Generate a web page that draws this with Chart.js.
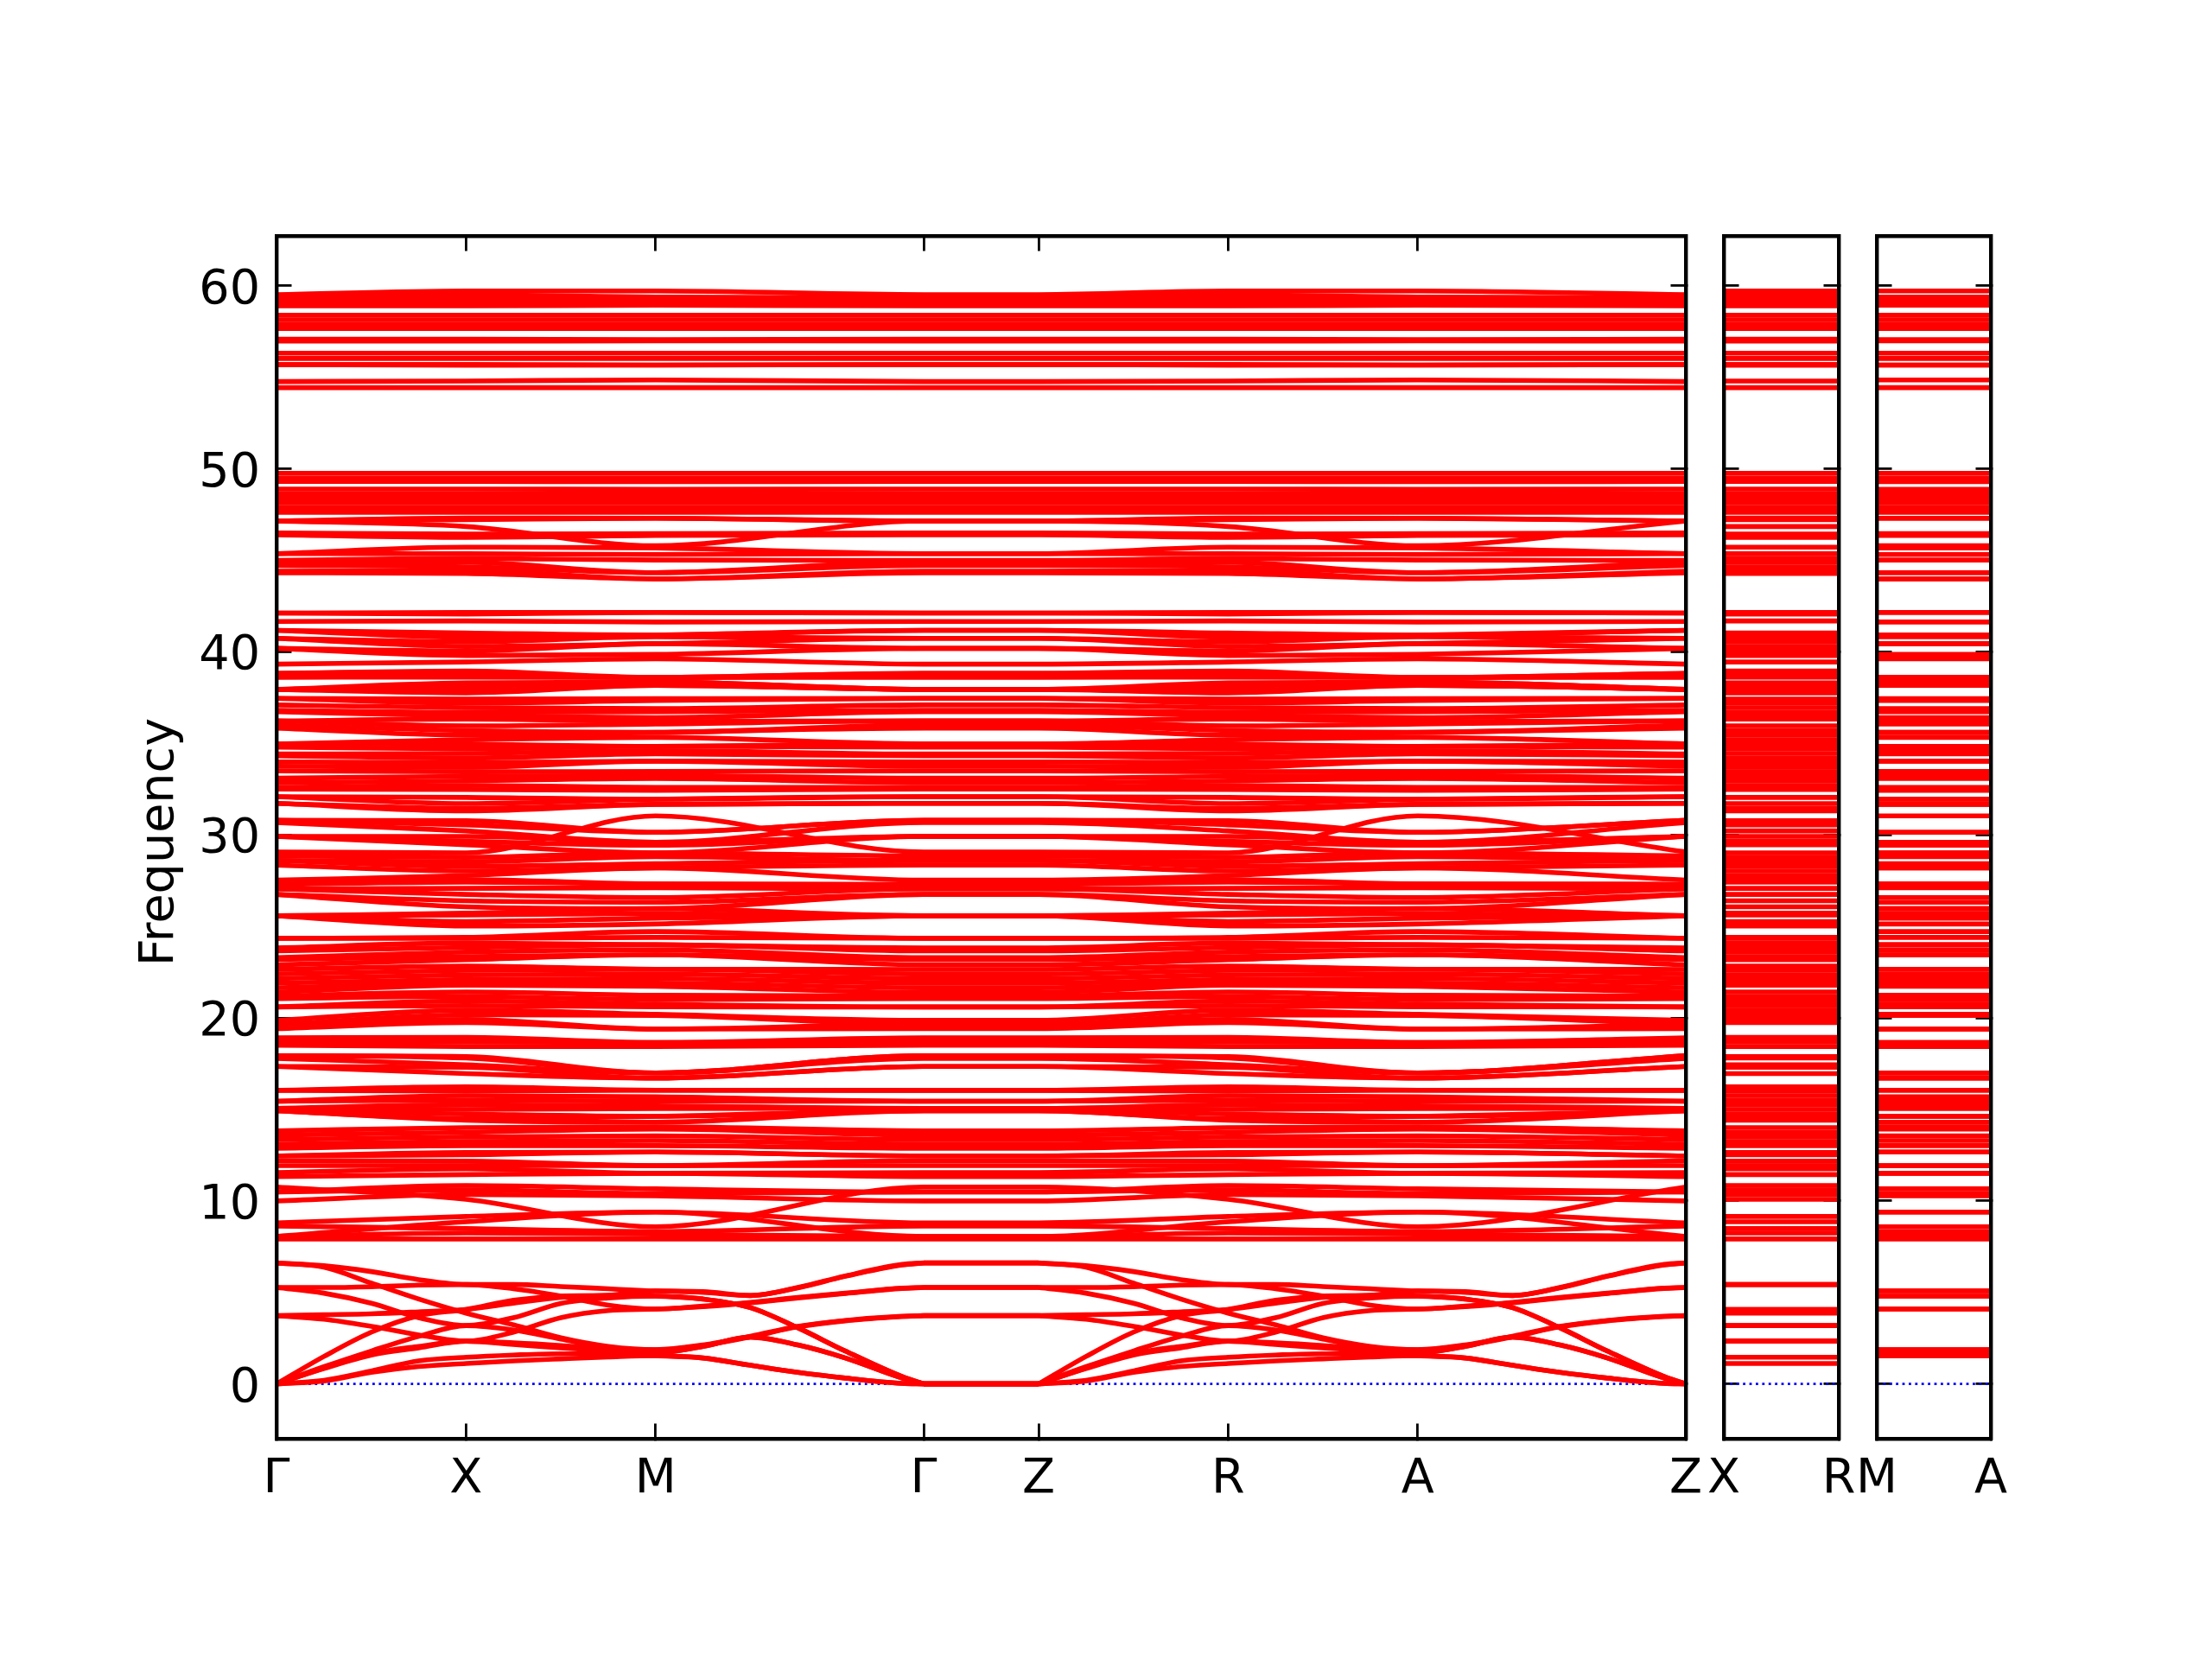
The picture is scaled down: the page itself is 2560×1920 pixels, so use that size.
<!DOCTYPE html>
<html>
<head>
<meta charset="utf-8">
<style>
html,body{margin:0;padding:0;background:#fff;width:2560px;height:1920px;overflow:hidden}
canvas{position:absolute;left:0;top:0}
</style>
<script src="https://cdn.jsdelivr.net/npm/chart.js@4"></script>
</head>
<body>
<canvas id="main" width="2560" height="1920"></canvas>
<canvas id="xr" width="2560" height="1920"></canvas>
<canvas id="ma" width="2560" height="1920"></canvas>
<script>
// ---------- tick labels and k positions ----------
const mainKNodes = [0,1,2,3.414,4.02,5.02,6.02,7.434];
const mainLabels = ['Γ','X','M','Γ','Z','R','A','Z'];
const xrKNodes = [0,0.606];
const xrLabels = ['X','R'];
const maKNodes = [0,0.606];
const maLabels = ['M','A'];
const yTicks = [0,10,20,30,40,50,60];

// ---------- optical bands, read at each high-symmetry point; same index = same band ----------
const bandsAtGamma = [
7.92,8.06,8.06,8.63,8.8,10.76,10.0,10.49,10.49,11.33,11.55,11.93,12.2,12.46,12.46,12.88,13.1,13.35,13.6,13.83,
14.93,14.93,14.93,15.06,15.06,15.45,15.45,16.04,16.04,17.35,17.35,17.79,17.94,17.94,18.51,18.7,18.92,
19.41,19.65,19.65,19.87,20.6,20.6,21.06,21.2,21.4,21.65,21.9,22.15,22.4,22.65,22.9,23.19,23.29,23.66,23.83,24.35,24.35,
25.58,25.58,25.58,25.58,26.75,26.75,27.05,27.05,27.3,27.3,27.53,28.35,28.6,28.6,28.85,29.07,29.92,29.92,29.92,
30.67,30.8,30.8,31.72,31.72,32.09,32.09,32.5,32.6,32.85,33.1,33.5,33.75,33.99,34.32,34.42,34.79,34.97,34.97,
35.83,36.0,36.23,36.23,36.73,36.81,37.1,37.46,37.46,37.95,37.95,37.95,37.95,38.61,38.83,38.83,39.33,
40.19,40.19,40.74,40.74,41.18,41.18,41.66,42.12,42.12,
44.32,44.41,44.72,44.93,45.0,45.37,45.37,46.4,46.5,47.15,47.15,47.15,47.63,47.9,48.15,48.4,48.65,48.9,49.31,49.5,49.76,
54.44,54.77,55.7,55.7,56.03,56.32,56.98,57.08,57.67,57.9,58.15,58.4,58.91,59.05,59.2,59.35,59.52
];
const bandsAtX = [
7.92,8.25,8.86,8.49,9.15,10.09,10.35,10.6,10.84,11.44,11.75,11.93,12.17,12.52,12.65,13.02,13.25,13.5,13.75,14.01,
14.41,14.5,14.75,15.0,15.25,15.5,15.75,16.0,16.23,16.96,17.3,17.44,17.81,17.89,18.44,18.7,18.94,
19.74,19.92,20.17,20.42,20.67,20.92,21.17,21.42,21.79,21.9,22.1,22.35,22.6,22.83,23.18,23.35,23.6,23.85,24.09,24.35,24.4,
25.02,25.27,25.62,25.72,26.07,26.4,26.75,27.08,27.42,27.55,27.78,28.03,28.28,28.53,28.78,29.02,29.46,29.65,29.92,
30.22,30.55,30.78,31.31,31.45,31.71,32.05,32.48,32.7,32.95,33.2,33.45,33.7,33.95,34.2,34.45,34.7,34.95,35.2,
35.45,35.7,35.96,36.33,36.5,36.7,36.95,37.2,37.42,37.76,37.9,38.1,38.31,38.62,38.75,38.96,39.45,
39.8,40.05,40.3,40.55,40.8,41.03,41.69,42.07,42.16,
44.28,44.45,44.65,44.9,45.1,45.36,45.72,46.26,46.44,46.85,47.22,47.31,47.63,47.9,48.15,48.4,48.65,48.9,49.31,49.5,49.76,
54.44,54.8,55.66,55.71,56.03,56.32,56.98,57.08,57.67,57.9,58.15,58.4,58.91,59.1,59.3,59.5,59.72
];
const bandsAtM = [
7.92,8.19,9.39,8.33,9.39,8.59,10.28,10.4,10.66,11.51,11.51,11.93,11.93,12.67,12.67,13.02,13.3,13.56,13.93,14.05,14.3,
14.62,14.62,15.05,15.2,15.45,15.69,16.05,16.05,16.71,16.71,16.99,16.99,16.99,18.44,18.65,18.65,
19.39,19.39,20.14,20.2,20.61,20.75,21.0,21.24,21.73,21.9,22.15,22.4,22.66,22.66,23.45,23.45,23.72,24.0,24.0,24.4,24.72,
25.13,25.45,25.7,25.97,25.97,26.32,26.58,27.11,27.32,27.32,28.2,28.2,28.43,28.81,29.02,31.04,29.02,29.43,29.6,
29.6,30.14,30.14,31.67,31.67,31.95,31.95,32.43,32.6,33.08,33.25,33.47,34.03,34.03,34.43,34.6,34.84,34.84,
35.33,35.6,35.6,36.06,36.2,36.41,36.73,36.9,37.34,37.44,38.17,38.17,38.35,38.35,38.6,38.6,38.6,39.62,39.86,
40.45,40.45,40.82,40.92,40.92,41.63,42.16,42.16,
43.99,43.99,44.33,44.33,45.02,45.32,45.68,46.36,46.46,45.8,47.3,47.3,47.63,47.9,48.15,48.4,48.65,48.88,49.3,49.5,49.76,
54.44,54.86,55.67,55.67,56.03,56.32,57.0,57.06,57.67,57.9,58.15,58.4,58.94,59.05,59.2,59.39,59.72
];

// ---------- low bands: path Gamma - X - M - Gamma, sampled at these k ----------
const lowKFirst  = [0,0.25,0.5,0.75,1,1.25,1.5,1.75,2,2.25,2.5,2.75,3,3.3,3.414];
const lowKSecond = [4.02,4.27,4.52,4.77,5.02,5.27,5.52,5.77,6.02,6.27,6.52,6.77,7.02,7.32,7.434];
const lowBandA = [6.61,6.46,6.14,5.70,5.43,5.43,5.32,5.20,5.08,5.04,4.83,5.27,5.90,6.53,6.61];
const lowBandB = [6.61,6.38,5.51,4.64,3.87,3.23,2.52,2.05,1.87,2.13,2.60,3.15,3.47,3.70,3.73];
const lowBandC = [5.27,5.27,5.31,5.40,5.43,5.20,4.80,4.30,4.09,4.25,4.46,4.73,4.96,5.24,5.27];
const lowBandD = [5.27,4.96,4.41,3.62,3.19,3.62,4.40,4.70,4.80,4.64,4.17,3.07,1.80,0.40,0];
const lowBandE = [3.73,3.78,3.83,3.94,4.07,4.41,4.73,4.85,5.08,5.00,4.83,5.25,5.88,6.50,6.61];
const lowBandF = [3.73,3.54,3.15,2.68,2.34,2.83,3.62,4.01,4.09,4.22,4.43,4.70,4.94,5.22,5.27];
const lowBandG = [0,1.50,2.83,3.73,4.07,4.57,4.80,4.83,4.80,4.64,4.17,3.07,1.80,0.40,0];
const lowBandH = [0,0.94,1.80,2.60,3.19,2.95,2.45,1.97,1.87,2.10,2.57,3.12,3.45,3.68,3.73];
const lowBandI = [0,0.84,1.58,1.97,2.34,2.16,1.97,1.81,1.70,2.05,2.57,2.13,1.42,0.32,0];
const lowBandJ = [0,0.87,1.65,2.05,2.34,2.25,2.10,1.90,1.70,2.05,2.55,2.13,1.42,0.32,0];
const lowBandK = [0,0.20,0.71,1.26,1.46,1.58,1.65,1.65,1.54,1.42,1.02,0.63,0.32,0.03,0];
const lowBandL = [0,0.16,0.63,0.95,1.12,1.26,1.37,1.47,1.54,1.42,1.02,0.63,0.32,0.03,0];
const lowBands = [lowBandA,lowBandB,lowBandC,lowBandD,lowBandE,lowBandF,lowBandG,lowBandH,lowBandI,lowBandJ,lowBandK,lowBandL];
const lowXIndex = 4, lowMIndex = 8;

// ---------- styling ----------
const RED='#ff0000', BLUE='#0000ff', BLACK='#000000';
const W=2560, H=1920, TOP=273, BOTTOM=1665;
const Y_MIN=-2.99, Y_MAX=62.73;
const FONT={family:'"DejaVu Sans"',size:55.6};
const TL=17.5, LW=5.6, SPINE=4.4, TICKW=2.8;

function band(xs, ys, cubic){
  return {data:xs.map((x,i)=>({x,y:ys[i]})),borderColor:RED,borderWidth:LW,pointRadius:0,
    cubicInterpolationMode:cubic?'monotone':'default',tension:0,fill:false,order:0,clip:0};
}
function zeroLine(x0,x1){
  return {data:[{x:x0,y:0},{x:x1,y:0}],borderColor:BLUE,borderWidth:2.8,borderDash:[2.8,4.6],
    pointRadius:0,fill:false,order:1000,clip:0,tension:0};
}
function axisCommon(){
  return {
    grid:{drawOnChartArea:false,drawTicks:true,tickLength:-TL,tickWidth:TICKW,tickColor:BLACK,lineWidth:TICKW,color:BLACK},
    border:{display:true,color:BLACK,width:SPINE,z:1}
  };
}
function makeChart(id,L,R,kNodes,labels,datasets,showY){
  const kMax=kNodes[kNodes.length-1];
  const setK=s=>{s.ticks=kNodes.map(v=>({value:v}));};
  const setY=s=>{s.ticks=yTicks.map(v=>({value:v}));};
  return new Chart(document.getElementById(id),{
    type:'line',
    data:{datasets},
    options:{
      responsive:false,animation:false,maintainAspectRatio:false,
      parsing:{xAxisKey:'x',yAxisKey:'y'},
      layout:{padding:0},
      plugins:{legend:{display:false},tooltip:{enabled:false},title:{display:false}},
      elements:{line:{borderCapStyle:'butt',borderJoinStyle:'round'}},
      scales:{
        x:{type:'linear',position:'bottom',min:0,max:kMax,afterBuildTicks:setK,afterFit:s=>{s.height=H-BOTTOM;},
          ticks:{autoSkip:false,maxRotation:0,minRotation:0,padding:TL+14.5,color:BLACK,font:FONT,
            callback:(v,i)=>labels[i]},...axisCommon()},
        xTop:{type:'linear',position:'top',min:0,max:kMax,afterBuildTicks:setK,afterFit:s=>{s.height=TOP;},
          ticks:{display:false,autoSkip:false},...axisCommon()},
        y:{type:'linear',position:'left',min:Y_MIN,max:Y_MAX,afterBuildTicks:setY,afterFit:s=>{s.width=L;},
          ticks:{display:showY,autoSkip:false,padding:TL+19,labelOffset:5.5,color:BLACK,font:FONT,callback:v=>String(v)},
          title:{display:showY,text:'Frequency\u2009',color:BLACK,font:FONT,padding:{top:152.5,bottom:0}},
          ...axisCommon()},
        yRight:{type:'linear',position:'right',min:Y_MIN,max:Y_MAX,afterBuildTicks:setY,afterFit:s=>{s.width=W-R;},
          ticks:{display:false,autoSkip:false},...axisCommon()}
      }
    }
  });
}

// ---------- main panel ----------
const mainSets=[zeroLine(0,7.434)];
bandsAtGamma.forEach((g,i)=>{
  const x=bandsAtX[i], m=bandsAtM[i];
  mainSets.push(band(mainKNodes,[g,x,m,g,g,x,m,g],true));
});
lowBands.forEach(b=>{
  mainSets.push(band(lowKFirst,b,true));
  mainSets.push(band(lowKSecond,b,true));
  mainSets.push(band([3.414,4.02],[b[b.length-1],b[b.length-1]],false));
});
makeChart('main',320,1951,mainKNodes,mainLabels,mainSets,true);

// ---------- X-R panel ----------
const xrSets=[zeroLine(0,0.606)];
bandsAtX.forEach(v=>xrSets.push(band(xrKNodes,[v,v],false)));
lowBands.forEach(b=>xrSets.push(band(xrKNodes,[b[lowXIndex],b[lowXIndex]],false)));
makeChart('xr',1995,2128,xrKNodes,xrLabels,xrSets,false);

// ---------- M-A panel ----------
const maSets=[zeroLine(0,0.606)];
bandsAtM.forEach(v=>maSets.push(band(maKNodes,[v,v],false)));
lowBands.forEach(b=>maSets.push(band(maKNodes,[b[lowMIndex],b[lowMIndex]],false)));
makeChart('ma',2172,2304,maKNodes,maLabels,maSets,false);
</script>
</body>
</html>
